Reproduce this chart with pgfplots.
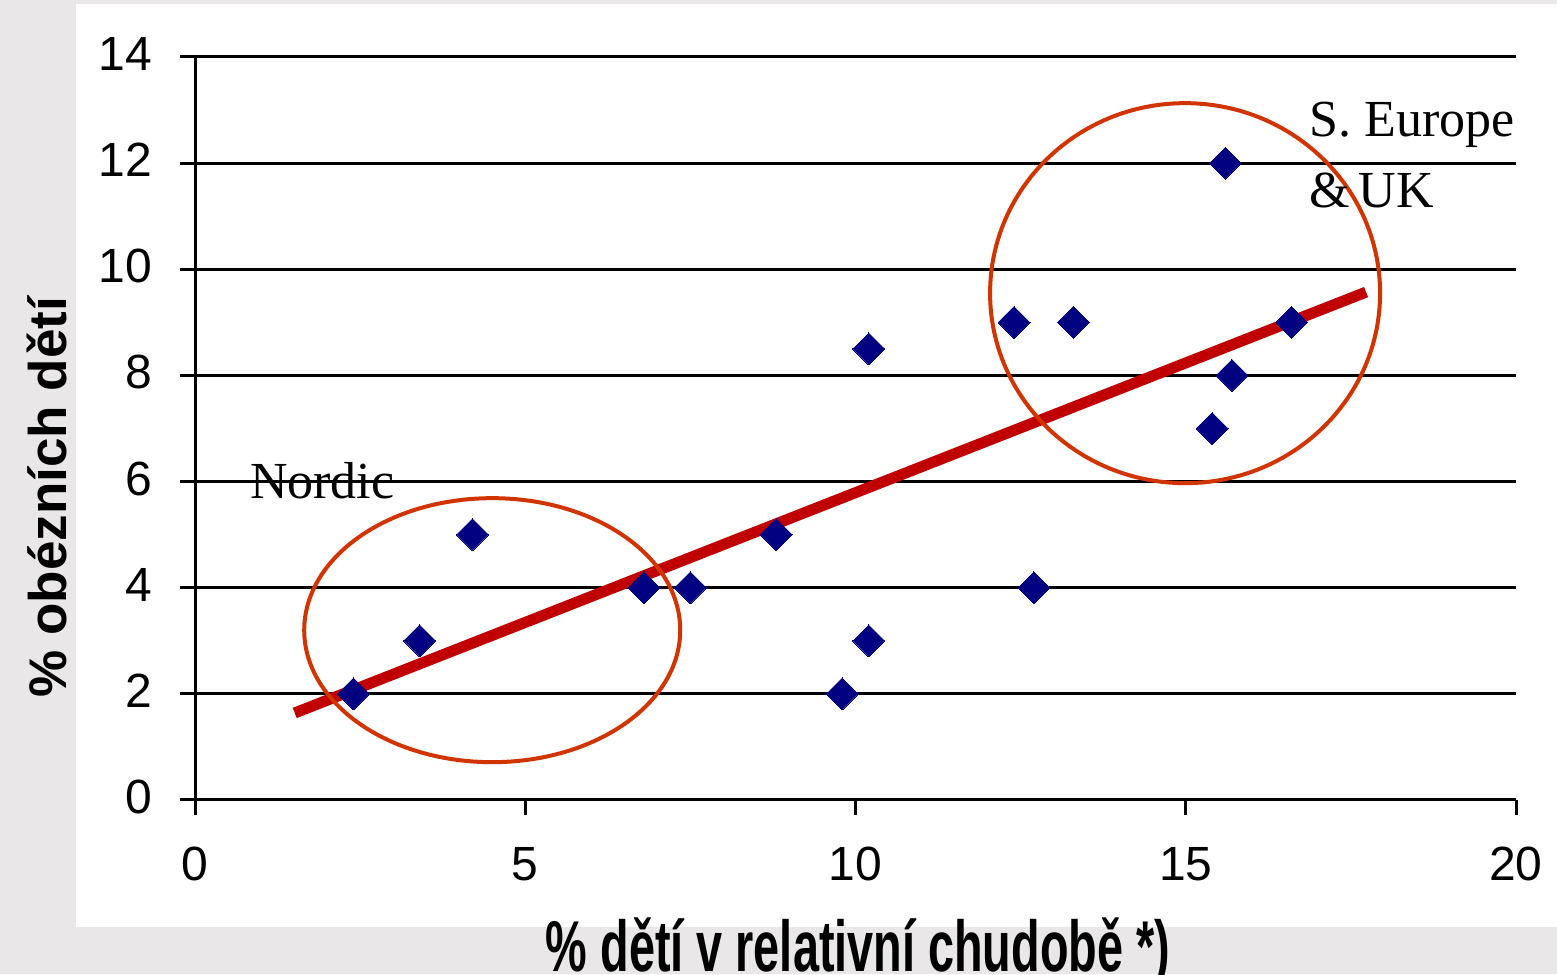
\documentclass[border=0pt]{standalone}
\usepackage{fontspec}
\setmainfont{Liberation Sans}
\newfontfamily\timesf{Liberation Serif}
\usepackage{graphicx}
\usepackage{pgfplots}
\pgfplotsset{compat=1.18}

\definecolor{bggray}{HTML}{E9E7E8}
\definecolor{dotnavy}{HTML}{000080}
\definecolor{trendred}{HTML}{C00000}
\definecolor{ringred}{RGB}{210,52,0}

\begin{document}
\begin{tikzpicture}
% background panels (1 px = 1 pt)
\fill[bggray] (0,0) rectangle (1557pt,974pt);
\fill[white] (76pt,47pt) rectangle (1557pt,970pt);

\begin{axis}[
    at={(195pt,174pt)}, anchor=south west,
    scale only axis,
    width=1321pt, height=743pt,
    xmin=0, xmax=20, ymin=0, ymax=14,
    xtick={0,5,10,15,20},
    ytick={0,2,4,6,8,10,12,14},
    axis lines=left,
    axis line style={-, black, line width=3pt},
    tick style={black, line width=3pt},
    tick align=outside,
    major tick length=15pt,
    ymajorgrids,
    grid style={black, line width=3pt},
    /pgf/number format/assume math mode=true,
    ticklabel style={font=\fontsize{48}{58}\selectfont, inner sep=0pt},
    xticklabel style={anchor=north, yshift=-32pt},
    yticklabel style={anchor=east, xshift=-28pt, yshift=3pt},
    clip=false,
]

% trend line
\addplot[trendred, line width=11pt, line cap=butt] coordinates {
    (1.51,1.64) (17.73,9.57)
};

% countries
\addplot[only marks, mark=square*, mark size=11.3pt,
    mark options={rotate=45, fill=dotnavy, draw=dotnavy, line width=0pt}]
coordinates {
    (2.4,2) (3.4,3) (4.2,5) (6.8,4) (7.5,4) (8.8,5) (9.8,2) (10.2,3)
    (10.2,8.5) (12.4,9) (13.3,9) (12.7,4) (15.6,12) (15.4,7) (15.7,8) (16.6,9)
};

% group rings
\draw[ringred, line width=4pt] (axis cs:4.5,3.2) ellipse [x radius=188pt, y radius=132pt];
\draw[ringred, line width=4pt] (axis cs:14.99,9.55) ellipse [x radius=195pt, y radius=190pt];

\node[anchor=base west, inner sep=0pt, font=\timesf\fontsize{52}{60}\selectfont]
    at (axis cs:0.83,5.69) {Nordic};
\node[anchor=base west, inner sep=0pt, font=\timesf\fontsize{52}{60}\selectfont]
    at (axis cs:16.87,12.51) {S. Europe};
\node[anchor=base west, inner sep=0pt, font=\timesf\fontsize{52}{60}\selectfont]
    at (axis cs:16.87,11.17) {\&\,UK};
\end{axis}

% axis titles
\node[rotate=90, anchor=base, inner sep=0pt, font=\bfseries\fontsize{53}{60}\selectfont]
    at (66pt,477pt) {\% obézních dětí};
\node[anchor=base, inner sep=0pt, font=\bfseries\fontsize{72}{84}\selectfont]
    at (858pt,3pt) {\scalebox{0.65}[1]{\% dětí v relativní chudobě *)}};

\pgfresetboundingbox
\useasboundingbox (0,0) rectangle (1557pt,974pt);
\end{tikzpicture}
\end{document}
